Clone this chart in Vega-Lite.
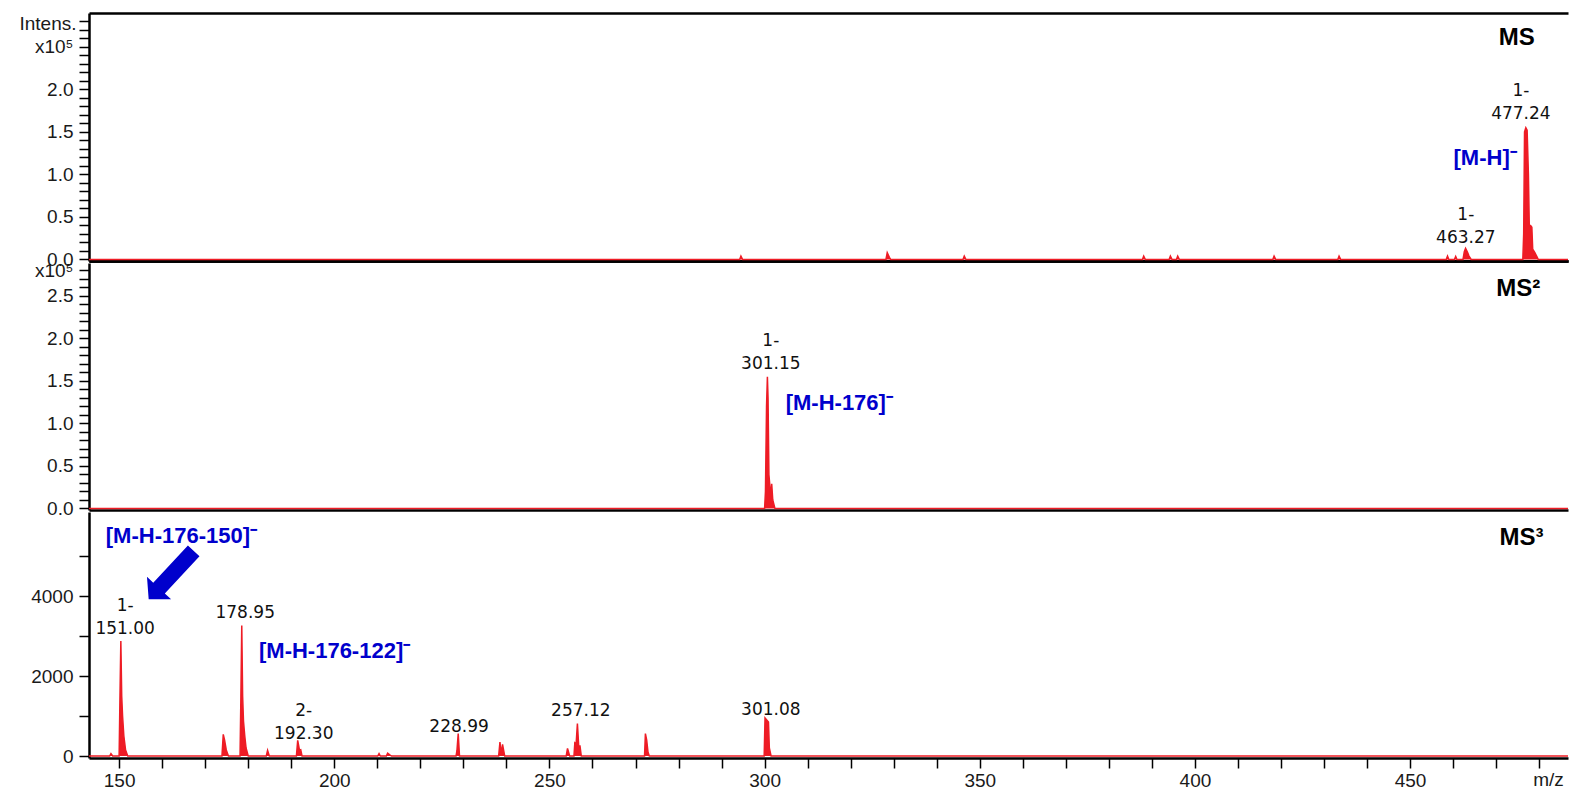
{
  "$schema": "https://vega.github.io/schema/vega-lite/v6.json",
  "padding": {"left": 18, "top": 12, "right": 4, "bottom": 4},
  "spacing": 2,
  "bounds": "flush",
  "config": {
    "view": {"stroke": null},
    "font": "Liberation Sans",
    "axis": {
      "grid": false, "domainColor": "#000", "domainWidth": 2.5, "tickColor": "#000", "tickWidth": 1.5,
      "labelFont": "Liberation Sans", "labelFontSize": 19, "labelColor": "#1a1a1a", "labelOverlap": false, "labelFlush": false,
      "titleFont": "Liberation Sans", "titleFontSize": 19, "titleFontWeight": "normal", "titleColor": "#1a1a1a"
    }
  },
  "datasets": {
    "ms1": [
      {"mz": 143, "i": 0}, {"mz": 294.2, "i": 0}, {"mz": 294.5, "i": 4000}, {"mz": 294.9, "i": 0},
      {"mz": 328.2, "i": 0}, {"mz": 328.5, "i": 8000}, {"mz": 329.0, "i": 2500}, {"mz": 329.3, "i": 0},
      {"mz": 346.1, "i": 0}, {"mz": 346.4, "i": 4000}, {"mz": 346.8, "i": 0},
      {"mz": 387.8, "i": 0}, {"mz": 388.1, "i": 4000}, {"mz": 388.5, "i": 0},
      {"mz": 394.0, "i": 0}, {"mz": 394.3, "i": 4000}, {"mz": 394.7, "i": 0},
      {"mz": 395.7, "i": 0}, {"mz": 396.0, "i": 4000}, {"mz": 396.4, "i": 0},
      {"mz": 418.1, "i": 0}, {"mz": 418.4, "i": 4000}, {"mz": 418.8, "i": 0},
      {"mz": 433.2, "i": 0}, {"mz": 433.5, "i": 4000}, {"mz": 433.9, "i": 0},
      {"mz": 458.4, "i": 0}, {"mz": 458.7, "i": 4000}, {"mz": 459.0, "i": 0},
      {"mz": 460.3, "i": 0}, {"mz": 460.6, "i": 3500}, {"mz": 460.9, "i": 0},
      {"mz": 462.3, "i": 0}, {"mz": 462.6, "i": 9000}, {"mz": 462.9, "i": 13000}, {"mz": 463.3, "i": 9000}, {"mz": 463.7, "i": 4000}, {"mz": 464.2, "i": 0},
      {"mz": 476.2, "i": 0}, {"mz": 476.4, "i": 30000}, {"mz": 476.6, "i": 150000}, {"mz": 476.9, "i": 155000}, {"mz": 477.2, "i": 152000},
      {"mz": 477.5, "i": 100000}, {"mz": 477.7, "i": 40000}, {"mz": 478.0, "i": 40000}, {"mz": 478.3, "i": 38000}, {"mz": 478.5, "i": 12000},
      {"mz": 479.0, "i": 8000}, {"mz": 479.5, "i": 3000}, {"mz": 479.8, "i": 0}, {"mz": 486.7, "i": 0}
    ],
    "ms2": [
      {"mz": 143, "i": 0}, {"mz": 300.0, "i": 0}, {"mz": 300.2, "i": 20000}, {"mz": 300.45, "i": 120000}, {"mz": 300.65, "i": 155000},
      {"mz": 300.8, "i": 130000}, {"mz": 301.0, "i": 40000}, {"mz": 301.2, "i": 28000}, {"mz": 301.4, "i": 12000}, {"mz": 301.65, "i": 29000},
      {"mz": 301.9, "i": 10000}, {"mz": 302.4, "i": 0}, {"mz": 486.7, "i": 0}
    ],
    "ms3": [
      {"mz": 143, "i": 0}, {"mz": 147.8, "i": 0}, {"mz": 148.1, "i": 60}, {"mz": 148.5, "i": 0},
      {"mz": 150.0, "i": 0}, {"mz": 150.2, "i": 1500}, {"mz": 150.4, "i": 2875}, {"mz": 150.6, "i": 1500}, {"mz": 150.8, "i": 1000}, {"mz": 151.1, "i": 500}, {"mz": 151.5, "i": 150}, {"mz": 152.0, "i": 0},
      {"mz": 173.9, "i": 0}, {"mz": 174.2, "i": 540}, {"mz": 174.5, "i": 400}, {"mz": 174.9, "i": 150}, {"mz": 175.4, "i": 0},
      {"mz": 178.1, "i": 0}, {"mz": 178.3, "i": 1500}, {"mz": 178.5, "i": 3265}, {"mz": 178.7, "i": 1500}, {"mz": 178.9, "i": 875}, {"mz": 179.2, "i": 500}, {"mz": 179.5, "i": 200}, {"mz": 180.0, "i": 0},
      {"mz": 184.2, "i": 0}, {"mz": 184.5, "i": 140}, {"mz": 184.9, "i": 0},
      {"mz": 191.2, "i": 0}, {"mz": 191.5, "i": 390}, {"mz": 191.9, "i": 150}, {"mz": 192.2, "i": 160}, {"mz": 192.5, "i": 0},
      {"mz": 210.1, "i": 0}, {"mz": 210.4, "i": 60}, {"mz": 210.7, "i": 0},
      {"mz": 212.1, "i": 0}, {"mz": 212.4, "i": 70}, {"mz": 212.9, "i": 30}, {"mz": 213.3, "i": 0},
      {"mz": 228.3, "i": 0}, {"mz": 228.5, "i": 125}, {"mz": 228.8, "i": 560}, {"mz": 229.1, "i": 0},
      {"mz": 238.2, "i": 0}, {"mz": 238.5, "i": 350}, {"mz": 238.8, "i": 50}, {"mz": 239.1, "i": 290}, {"mz": 239.6, "i": 0},
      {"mz": 253.9, "i": 0}, {"mz": 254.2, "i": 190}, {"mz": 254.7, "i": 0},
      {"mz": 255.7, "i": 0}, {"mz": 255.9, "i": 330}, {"mz": 256.2, "i": 300}, {"mz": 256.5, "i": 810}, {"mz": 256.8, "i": 250}, {"mz": 257.1, "i": 250}, {"mz": 257.4, "i": 0},
      {"mz": 272.1, "i": 0}, {"mz": 272.3, "i": 560}, {"mz": 272.6, "i": 400}, {"mz": 272.9, "i": 100}, {"mz": 273.2, "i": 0},
      {"mz": 299.9, "i": 0}, {"mz": 300.1, "i": 950}, {"mz": 300.5, "i": 900}, {"mz": 300.9, "i": 850}, {"mz": 301.1, "i": 200}, {"mz": 301.5, "i": 0},
      {"mz": 486.7, "i": 0}
    ],
    "ann1": [{"mz": 475.75, "i": 198200, "t": "1-\n477.24"}, {"mz": 462.96, "i": 52400, "t": "1-\n463.27"}],
    "blue1": [{"mz": 460.1, "i": 119800, "t": "[M-H]⁻"}],
    "title1": [{"mz": 470.6, "i": 260200, "t": "MS"}],
    "ann2": [{"mz": 301.45, "i": 197100, "t": "1-\n301.15"}],
    "blue2": [{"mz": 304.9, "i": 124500, "t": "[M-H-176]⁻"}],
    "title2": [{"mz": 470.0, "i": 258000, "t": "MS²"}],
    "ann3": [
      {"mz": 151.4, "i": 3750, "t": "1-\n151.00"}, {"mz": 179.3, "i": 3583, "t": "178.95"},
      {"mz": 192.9, "i": 1125, "t": "2-\n192.30"}, {"mz": 229.0, "i": 725, "t": "228.99"},
      {"mz": 257.3, "i": 1125, "t": "257.12"}, {"mz": 301.45, "i": 1140, "t": "301.08"}
    ],
    "blue3": [{"mz": 146.9, "i": 5500, "t": "[M-H-176-150]⁻"}, {"mz": 182.5, "i": 2625, "t": "[M-H-176-122]⁻"}],
    "title3": [{"mz": 470.8, "i": 5458, "t": "MS³"}],
    "arrow3": [{"mz": 162.1, "i": 4525}]
  },
  "vconcat": [
    {
      "width": 1479, "height": 248,
      "encoding": {
        "x": {"field": "mz", "type": "quantitative", "scale": {"domain": [143, 486.7], "nice": false, "zero": false},
          "axis": {"orient": "bottom", "ticks": false, "labels": false, "title": null}},
        "y": {"field": "i", "type": "quantitative", "scale": {"domain": [-1800, 290000], "nice": false, "zero": true},
          "axis": {"orient": "left", "values": [0,10000,20000,30000,40000,50000,60000,70000,80000,90000,100000,110000,120000,130000,140000,150000,160000,170000,180000,190000,200000,210000,220000,230000,240000,250000,260000,270000,280000],
            "labelExpr": "datum.value === 250000 ? 'x10⁵' : (datum.value % 50000 === 0 ? format(datum.value / 100000, '.1f') : '')",
            "tickSize": 10, "labelPadding": 6,
            "encode": {"ticks": {"update": {"x2": {"signal": "datum.value % 50000 === 0 ? -10 : -5"}}}},
            "title": "Intens.", "titleAngle": 0, "titleAlign": "right", "titleBaseline": "middle", "titleX": -13, "titleY": 10}}
      },
      "layer": [
        {"data": {"name": "ms1"}, "mark": {"type": "area", "color": "#ee1c25", "opacity": 1, "clip": true, "line": {"color": "#ee1c25", "strokeWidth": 1.5}}},
        {"data": {"name": "ann1"}, "mark": {"type": "text", "font": "DejaVu Sans", "fontSize": 17, "color": "#111", "align": "center", "baseline": "middle", "lineHeight": 23, "lineBreak": "\n"},
          "encoding": {"text": {"field": "t"}}},
        {"data": {"name": "blue1"}, "mark": {"type": "text", "font": "Liberation Sans", "fontSize": 22, "fontWeight": "bold", "color": "#0000cc", "align": "left", "baseline": "middle"},
          "encoding": {"text": {"field": "t"}}},
        {"data": {"name": "title1"}, "mark": {"type": "text", "font": "Liberation Sans", "fontSize": 24, "fontWeight": "bold", "color": "#000", "align": "left", "baseline": "middle"},
          "encoding": {"x": {"field": "mz", "type": "quantitative", "scale": {"domain": [143, 486.7], "nice": false, "zero": false}, "axis": {"orient": "top", "ticks": false, "labels": false, "title": null}}, "text": {"field": "t"}}}
      ],
      "resolve": {"axis": {"x": "independent"}}
    },
    {
      "width": 1479, "height": 247,
      "encoding": {
        "x": {"field": "mz", "type": "quantitative", "scale": {"domain": [143, 486.7], "nice": false, "zero": false},
          "axis": {"orient": "bottom", "ticks": false, "labels": false, "title": null}},
        "y": {"field": "i", "type": "quantitative", "scale": {"domain": [-1800, 288800], "nice": false, "zero": true},
          "axis": {"orient": "left", "values": [0,10000,20000,30000,40000,50000,60000,70000,80000,90000,100000,110000,120000,130000,140000,150000,160000,170000,180000,190000,200000,210000,220000,230000,240000,250000,260000,270000,280000],
            "labelExpr": "datum.value === 280000 ? 'x10⁵' : (datum.value % 50000 === 0 ? format(datum.value / 100000, '.1f') : '')",
            "tickSize": 10, "labelPadding": 6,
            "encode": {"ticks": {"update": {"x2": {"signal": "datum.value % 50000 === 0 ? -10 : -5"}}}},
            "title": null}}
      },
      "layer": [
        {"data": {"name": "ms2"}, "mark": {"type": "area", "color": "#ee1c25", "opacity": 1, "clip": true, "line": {"color": "#ee1c25", "strokeWidth": 1.5}}},
        {"data": {"name": "ann2"}, "mark": {"type": "text", "font": "DejaVu Sans", "fontSize": 17, "color": "#111", "align": "center", "baseline": "middle", "lineHeight": 23, "lineBreak": "\n"},
          "encoding": {"text": {"field": "t"}}},
        {"data": {"name": "blue2"}, "mark": {"type": "text", "font": "Liberation Sans", "fontSize": 22, "fontWeight": "bold", "color": "#0000cc", "align": "left", "baseline": "middle"},
          "encoding": {"text": {"field": "t"}}},
        {"data": {"name": "title2"}, "mark": {"type": "text", "font": "Liberation Sans", "fontSize": 24, "fontWeight": "bold", "color": "#000", "align": "left", "baseline": "middle"},
          "encoding": {"text": {"field": "t"}}}
      ]
    },
    {
      "width": 1479, "height": 246,
      "encoding": {
        "x": {"field": "mz", "type": "quantitative", "scale": {"domain": [143, 486.7], "nice": false, "zero": false},
          "axis": {"orient": "bottom", "values": [150,160,170,180,190,200,210,220,230,240,250,260,270,280,290,300,310,320,330,340,350,360,370,380,390,400,410,420,430,440,450,460,470,480],
            "labelExpr": "datum.value % 50 === 0 ? format(datum.value, 'd') : ''",
            "tickSize": 10, "labelPadding": 3,
            "encode": {"ticks": {"update": {"y2": {"signal": "datum.value % 50 === 0 ? 10 : 6"}}}},
            "title": "m/z", "titleX": 1459, "titleY": 21, "titleAlign": "center", "titleBaseline": "middle"}},
        "y": {"field": "i", "type": "quantitative", "scale": {"domain": [-50, 6100], "nice": false, "zero": true},
          "axis": {"orient": "left", "values": [0,1000,2000,3000,4000,5000],
            "labelExpr": "datum.value % 2000 === 0 ? format(datum.value, 'd') : ''",
            "tickSize": 10, "labelPadding": 6, "title": null}}
      },
      "layer": [
        {"data": {"name": "ms3"}, "mark": {"type": "area", "color": "#ee1c25", "opacity": 1, "clip": true, "line": {"color": "#ee1c25", "strokeWidth": 1.5}}},
        {"data": {"name": "ann3"}, "mark": {"type": "text", "font": "DejaVu Sans", "fontSize": 17, "color": "#111", "align": "center", "baseline": "middle", "lineHeight": 23, "lineBreak": "\n"},
          "encoding": {"text": {"field": "t"}}},
        {"data": {"name": "blue3"}, "mark": {"type": "text", "font": "Liberation Sans", "fontSize": 22, "fontWeight": "bold", "color": "#0000cc", "align": "left", "baseline": "middle"},
          "encoding": {"text": {"field": "t"}}},
        {"data": {"name": "title3"}, "mark": {"type": "text", "font": "Liberation Sans", "fontSize": 24, "fontWeight": "bold", "color": "#000", "align": "left", "baseline": "middle"},
          "encoding": {"text": {"field": "t"}}},
        {"data": {"name": "arrow3"}, "mark": {"type": "point", "shape": "M -1 -0.24 L 0.54 -0.24 L 0.54 -0.5 L 1 0 L 0.54 0.5 L 0.54 0.24 L -1 0.24 Z", "filled": true, "color": "#0000cc", "opacity": 1, "size": 4356, "angle": 133, "strokeWidth": 0}}
      ]
    }
  ]
}
